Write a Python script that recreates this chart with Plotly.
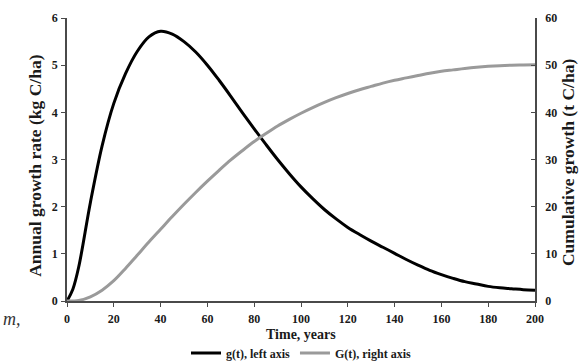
import plotly.graph_objects as go

# Time axis (years)
years = [0, 2.5, 5, 10, 15, 20, 25, 30, 35, 40, 45, 50, 55, 60, 65, 70, 75, 80, 85, 90, 95,
         100, 105, 110, 115, 120, 125, 130, 135, 140, 145, 150, 155, 160, 165, 170, 175,
         180, 185, 190, 195, 200]

# Annual growth rate g(t), kg C/ha (left axis)
g_rate = [0.0, 0.25, 0.72, 2.09, 3.29, 4.19, 4.82, 5.29, 5.6, 5.72, 5.66, 5.5, 5.28, 5.0,
          4.68, 4.34, 3.99, 3.65, 3.32, 3.0, 2.7, 2.42, 2.17, 1.94, 1.74, 1.56, 1.41, 1.27,
          1.14, 1.01, 0.88, 0.76, 0.65, 0.56, 0.48, 0.41, 0.36, 0.31, 0.28, 0.26, 0.24, 0.23]

# Cumulative growth G(t), t C/ha (right axis)
g_cum = [0.0, 0.02, 0.1, 0.9, 2.3, 4.3, 6.9, 9.7, 12.5, 15.2, 17.9, 20.5, 23.0, 25.4, 27.7,
         29.9, 31.9, 33.8, 35.5, 37.1, 38.5, 39.8, 41.0, 42.1, 43.1, 44.0, 44.8, 45.5, 46.2,
         46.8, 47.3, 47.8, 48.3, 48.7, 49.0, 49.3, 49.55, 49.75, 49.9, 50.0, 50.05, 50.1]

x_ticks = [0, 20, 40, 60, 80, 100, 120, 140, 160, 180, 200]
left_ticks = [0, 1, 2, 3, 4, 5, 6]
right_ticks = [0, 10, 20, 30, 40, 50, 60]

SERIF = "Liberation Serif, Times New Roman, serif"
INK = "#1a1a1a"
AXIS = "#4a4a4a"
GREY = "#9a9a9a"

fig = go.Figure()
fig.add_trace(go.Scatter(
    x=years, y=g_rate, mode="lines", name="g(t), left axis",
    line=dict(color="#000000", width=3, shape="spline", smoothing=1.0),
    yaxis="y",
))
fig.add_trace(go.Scatter(
    x=years, y=g_cum, mode="lines", name="G(t), right axis",
    line=dict(color=GREY, width=3, shape="spline", smoothing=1.0),
    yaxis="y2",
))

tickfont = dict(family=SERIF, size=12, color=INK, weight="bold")
titlefont = dict(family=SERIF, size=17.5, color=INK, weight="bold")

fig.update_layout(
    width=579, height=362,
    margin=dict(l=67, r=44, t=18, b=61, autoexpand=False),
    paper_bgcolor="white", plot_bgcolor="white",
    showlegend=True,
    legend=dict(
        orientation="h", x=0.50, y=-0.184, xanchor="center", yanchor="middle",
        font=dict(family=SERIF, size=12, color=INK, weight="bold"),
        itemwidth=30, tracegroupgap=0, bgcolor="rgba(0,0,0,0)",
    ),
    xaxis=dict(
        range=[0, 200], tickvals=x_ticks, ticks="outside", ticklen=4, tickwidth=1.2,
        tickcolor=AXIS, showline=True, linecolor=AXIS, linewidth=1.5,
        showgrid=False, zeroline=False, tickfont=tickfont, ticklabelstandoff=2,
    ),
    yaxis=dict(
        range=[0, 6], tickvals=left_ticks, ticks="outside", ticklen=4, tickwidth=1.2,
        tickcolor=AXIS, showline=True, linecolor=AXIS, linewidth=1.5,
        showgrid=False, zeroline=False, tickfont=tickfont, ticklabelstandoff=1,
    ),
    yaxis2=dict(
        range=[0, 60], tickvals=right_ticks, overlaying="y", side="right",
        ticks="inside", ticklen=4, tickwidth=1.2, tickcolor=AXIS,
        showline=True, linecolor=AXIS, linewidth=1.5,
        showgrid=False, zeroline=False, tickfont=tickfont, ticklabelstandoff=6,
    ),
    annotations=[
        dict(text="Annual growth rate (kg C/ha)", xref="paper", yref="paper",
             x=-0.069, y=0.48, xanchor="center", yanchor="middle", textangle=-90,
             showarrow=False, font=titlefont),
        dict(text="Cumulative growth (t C/ha)", xref="paper", yref="paper",
             x=1.072, y=0.49, xanchor="center", yanchor="middle", textangle=-90,
             showarrow=False, font=titlefont),
        dict(text="Time, years", xref="paper", yref="paper",
             x=0.50, y=-0.118, xanchor="center", yanchor="middle",
             showarrow=False, font=dict(family=SERIF, size=14, color=INK, weight="bold")),
        dict(text="<i>m,</i>", xref="paper", yref="paper",
             x=-0.140, y=-0.062, xanchor="left", yanchor="middle",
             showarrow=False, font=dict(family=SERIF, size=18, color="#333333")),
    ],
)

fig.write_html("out.html")
